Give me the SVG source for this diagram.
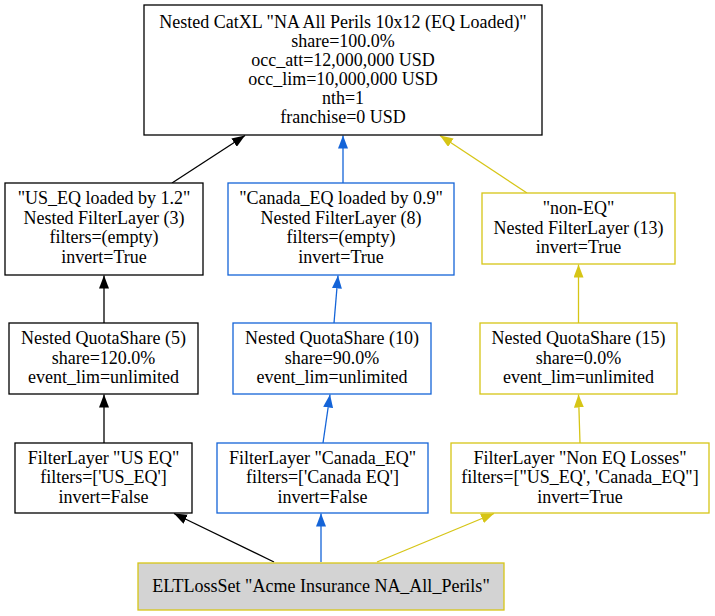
<svg xmlns="http://www.w3.org/2000/svg" width="715" height="616" viewBox="0 0 715 616">
  <style>
    .box { fill: #ffffff; stroke-width: 1.3; }
    .k { stroke: #000000; }
    .b { stroke: #1464d8; }
    .y { stroke: #d6c516; }
    .loss { fill: #d3d3d3; }
    text { font-family: "Liberation Serif", "Times New Roman", serif; font-size: 18px; fill: #000000; text-anchor: middle; }
    .edge { fill: none; stroke-width: 1.3; }
  </style>
  <defs>
    <marker id="arrK" markerUnits="userSpaceOnUse" markerWidth="14" markerHeight="10" refX="13" refY="5" orient="auto">
      <path d="M0,0 L13,5 L0,10 z" fill="#000000"/>
    </marker>
    <marker id="arrB" markerUnits="userSpaceOnUse" markerWidth="14" markerHeight="10" refX="13" refY="5" orient="auto">
      <path d="M0,0 L13,5 L0,10 z" fill="#1464d8"/>
    </marker>
    <marker id="arrY" markerUnits="userSpaceOnUse" markerWidth="14" markerHeight="10" refX="13" refY="5" orient="auto">
      <path d="M0,0 L13,5 L0,10 z" fill="#d6c516"/>
    </marker>
  </defs>

  <!-- connectors -->
  <g id="edges">
    <line class="edge k" x1="274" y1="562" x2="174" y2="513.5" marker-end="url(#arrK)"/>
    <line class="edge b" x1="321" y1="562" x2="321" y2="513.5" marker-end="url(#arrB)"/>
    <line class="edge y" x1="377" y1="562" x2="494" y2="513.5" marker-end="url(#arrY)"/>

    <line class="edge k" x1="104" y1="443" x2="104" y2="394.5" marker-end="url(#arrK)"/>
    <line class="edge b" x1="323" y1="443" x2="330" y2="394.5" marker-end="url(#arrB)"/>
    <line class="edge y" x1="580" y1="443" x2="578.5" y2="394.5" marker-end="url(#arrY)"/>

    <line class="edge k" x1="104" y1="323" x2="104" y2="275.5" marker-end="url(#arrK)"/>
    <line class="edge b" x1="334" y1="323" x2="338" y2="275.5" marker-end="url(#arrB)"/>
    <line class="edge y" x1="578.5" y1="323" x2="578.5" y2="264.5" marker-end="url(#arrY)"/>

    <line class="edge k" x1="172" y1="183" x2="245" y2="135.5" marker-end="url(#arrK)"/>
    <line class="edge b" x1="343" y1="183" x2="343" y2="135.5" marker-end="url(#arrB)"/>
    <line class="edge y" x1="527" y1="193" x2="440" y2="135.5" marker-end="url(#arrY)"/>
  </g>

  <!-- Nested CatXL -->
  <g id="catxl">
    <rect class="box k" x="144" y="5" width="398" height="130"/>
    <text x="343" y="28">Nested CatXL "NA All Perils 10x12 (EQ Loaded)"</text>
    <text x="343" y="47">share=100.0%</text>
    <text x="343" y="66">occ_att=12,000,000 USD</text>
    <text x="343" y="85">occ_lim=10,000,000 USD</text>
    <text x="343" y="104">nth=1</text>
    <text x="343" y="123">franchise=0 USD</text>
  </g>

  <!-- Nested filter layers -->
  <g id="filter3">
    <rect class="box k" x="5" y="183" width="198" height="92"/>
    <text x="104" y="204">"US_EQ loaded by 1.2"</text>
    <text x="104" y="223.5">Nested FilterLayer (3)</text>
    <text x="104" y="243">filters=(empty)</text>
    <text x="104" y="262.5">invert=True</text>
  </g>
  <g id="filter8">
    <rect class="box b" x="228" y="183" width="226" height="92"/>
    <text x="341" y="204">"Canada_EQ loaded by 0.9"</text>
    <text x="341" y="223.5">Nested FilterLayer (8)</text>
    <text x="341" y="243">filters=(empty)</text>
    <text x="341" y="262.5">invert=True</text>
  </g>
  <g id="filter13">
    <rect class="box y" x="482" y="193" width="193" height="71"/>
    <text x="578.5" y="214">"non-EQ"</text>
    <text x="578.5" y="233.5">Nested FilterLayer (13)</text>
    <text x="578.5" y="253">invert=True</text>
  </g>

  <!-- Quota shares -->
  <g id="qs5">
    <rect class="box k" x="9" y="323" width="189" height="71"/>
    <text x="103.5" y="344">Nested QuotaShare (5)</text>
    <text x="103.5" y="363.5">share=120.0%</text>
    <text x="103.5" y="383">event_lim=unlimited</text>
  </g>
  <g id="qs10">
    <rect class="box b" x="233" y="323" width="198" height="71"/>
    <text x="332" y="344">Nested QuotaShare (10)</text>
    <text x="332" y="363.5">share=90.0%</text>
    <text x="332" y="383">event_lim=unlimited</text>
  </g>
  <g id="qs15">
    <rect class="box y" x="480" y="323" width="197" height="71"/>
    <text x="578.5" y="344">Nested QuotaShare (15)</text>
    <text x="578.5" y="363.5">share=0.0%</text>
    <text x="578.5" y="383">event_lim=unlimited</text>
  </g>

  <!-- Filter layers -->
  <g id="fl_us">
    <rect class="box k" x="15" y="443" width="177" height="70"/>
    <text x="103.5" y="463.5">FilterLayer "US EQ"</text>
    <text x="103.5" y="483">filters=['US_EQ']</text>
    <text x="103.5" y="502.5">invert=False</text>
  </g>
  <g id="fl_canada">
    <rect class="box b" x="217" y="443" width="211" height="70"/>
    <text x="322.5" y="463.5">FilterLayer "Canada_EQ"</text>
    <text x="322.5" y="483">filters=['Canada EQ']</text>
    <text x="322.5" y="502.5">invert=False</text>
  </g>
  <g id="fl_noneq">
    <rect class="box y" x="451" y="443" width="258" height="70"/>
    <text x="580" y="463.5">FilterLayer "Non EQ Losses"</text>
    <text x="580" y="483">filters=["US_EQ', 'Canada_EQ"]</text>
    <text x="580" y="502.5">invert=True</text>
  </g>

  <!-- Loss set -->
  <g id="losset">
    <rect class="box y loss" x="138" y="563" width="366" height="47"/>
    <text x="321" y="591.5">ELTLossSet "Acme Insurance NA_All_Perils"</text>
  </g>
</svg>
